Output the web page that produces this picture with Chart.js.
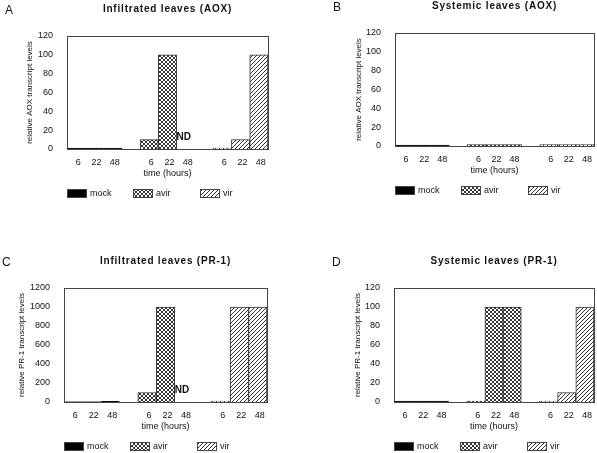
<!DOCTYPE html>
<html>
<head>
<meta charset="utf-8">
<script src="https://cdn.jsdelivr.net/npm/chart.js@4.4.0/dist/chart.umd.min.js"></script>
<style>
  html, body { margin: 0; padding: 0; background: #fff; }
  body { width: 597px; height: 453px; position: relative; overflow: hidden; }
  canvas { position: absolute; }
</style>
</head>
<body>
<canvas id="panelA" width="297" height="226" style="left:0;top:0"></canvas>
<canvas id="panelB" width="300" height="226" style="left:297px;top:0"></canvas>
<canvas id="panelC" width="297" height="227" style="left:0;top:226px"></canvas>
<canvas id="panelD" width="300" height="227" style="left:297px;top:226px"></canvas>
<script>
// x axis: three groups of time points (hours) with an empty slot between groups
const xLabels = ['6', '22', '48', '', '6', '22', '48', '', '6', '22', '48'];
const treatments = ['mock', 'avir', 'vir'];

// A - infiltrated leaves, AOX
const aoxInfMock = [1, 1, 1];
const aoxInfAvir = [10, 100, null]; // 48 h not determined
const aoxInfVir = [1, 10, 100];

// B - systemic leaves, AOX
const aoxSysMock = [1, 1, 1];
const aoxSysAvir = [1.5, 1.5, 1.5];
const aoxSysVir = [1.5, 1.5, 1.5];

// C - infiltrated leaves, PR-1
const prInfMock = [3, 3, 8];
const prInfAvir = [100, 1000, null]; // 48 h not determined
const prInfVir = [10, 1000, 1000];

// D - systemic leaves, PR-1
const prSysMock = [1, 1, 1];
const prSysAvir = [1, 100, 100];
const prSysVir = [1, 10, 100];

const FONT = '"Liberation Sans", Arial, Helvetica, sans-serif';

// put a group's three values into its slots on the 11-slot axis
function toSlots(values, group) {
  const out = xLabels.map(() => null);
  values.forEach((v, i) => { out[group * 4 + i] = v; });
  return out;
}

function makePattern(kind) {
  const c = document.createElement('canvas');
  c.width = 4; c.height = 4;
  const g = c.getContext('2d');
  g.fillStyle = '#fff';
  g.fillRect(0, 0, 4, 4);
  g.fillStyle = '#333';
  for (let i = 0; i < 4; i++) {
    g.fillRect(3 - i, i, 1, 1);
    if (kind === 'cross') g.fillRect(i, i, 1, 1);
  }
  return g.createPattern(c, 'repeat');
}

const fills = {
  mock: '#000',
  avir: makePattern('cross'),
  vir: makePattern('diag')
};

const decor = {
  id: 'decor',
  afterDraw(chart, args, opts) {
    const { ctx, chartArea: a, scales: { x } } = chart;
    ctx.save();

    // plot frame
    ctx.strokeStyle = '#444';
    ctx.lineWidth = 1;
    ctx.strokeRect(Math.round(a.left) + 0.5, Math.round(a.top) + 0.5,
      Math.round(a.right - a.left), Math.round(a.bottom - a.top));

    // panel letter
    ctx.fillStyle = '#111';
    ctx.font = '12px ' + FONT;
    ctx.textAlign = 'left';
    ctx.textBaseline = 'top';
    ctx.fillText(opts.letter, a.left - 62, a.top - 31);

    // title
    ctx.font = 'bold 10px ' + FONT;
    ctx.letterSpacing = '0.8px';
    ctx.textAlign = 'center';
    ctx.textBaseline = 'middle';
    ctx.fillText(opts.title, (a.left + a.right) / 2, a.top - 27);
    ctx.letterSpacing = '0px';

    // not determined marker
    if (opts.nd != null) {
      ctx.font = 'bold 10px ' + FONT;
      ctx.fillText('ND', x.getPixelForValue(opts.nd) - 2, a.bottom - 12);
    }

    // legend
    const ly = a.bottom + 44;
    const steps = [0, 66, 133];
    treatments.forEach((t, i) => {
      const bx = Math.round(a.left + steps[i]);
      ctx.fillStyle = fills[t];
      ctx.fillRect(bx, ly - 4, 20, 9);
      ctx.strokeStyle = '#444';
      ctx.strokeRect(bx + 0.5, ly - 3.5, 19, 8);
      ctx.fillStyle = '#111';
      ctx.font = '9px ' + FONT;
      ctx.textAlign = 'left';
      ctx.textBaseline = 'middle';
      ctx.fillText(t, bx + 23, ly + 1);
    });
    ctx.restore();
  }
};

function makeChart(id, cfg) {
  const canvas = document.getElementById(id);
  const W = canvas.width, H = canvas.height;
  const xAxisH = 30;
  const datasets = treatments.map((t, g) => ({
    label: t,
    data: toSlots(cfg.series[g], g),
    backgroundColor: fills[t],
    borderColor: '#333',
    borderWidth: 1,
    grouped: false,
    barPercentage: 1,
    categoryPercentage: 1
  }));

  return new Chart(canvas, {
    type: 'bar',
    data: { labels: xLabels, datasets },
    options: {
      responsive: false,
      animation: false,
      devicePixelRatio: 1,
      layout: {
        padding: {
          left: cfg.axisLeft,
          top: cfg.plot.top,
          right: W - cfg.plot.right,
          bottom: H - cfg.plot.bottom - xAxisH
        }
      },
      plugins: {
        legend: { display: false },
        tooltip: { enabled: false },
        decor: { letter: cfg.letter, title: cfg.title, nd: cfg.nd }
      },
      scales: {
        x: {
          offset: true,
          grid: { display: false },
          border: { display: false },
          ticks: {
            autoSkip: false, maxRotation: 0, padding: 0, labelOffset: 2,
            color: '#111', font: { family: FONT, size: 9 }
          },
          title: {
            display: true, text: 'time (hours)', padding: 0,
            color: '#111', font: { family: FONT, size: 9 }
          },
          afterFit(scale) { scale.height = xAxisH; }
        },
        y: {
          min: 0,
          max: cfg.yMax,
          grid: { display: false },
          border: { display: false },
          ticks: {
            stepSize: cfg.yMax / 6, padding: 6,
            color: '#111', font: { family: FONT, size: 9 },
            callback: (v) => String(v)
          },
          title: {
            display: true, text: cfg.yTitle, padding: 0,
            color: '#111', font: { family: FONT, size: 8 }
          },
          afterFit(scale) { scale.width = cfg.plot.left - cfg.axisLeft; }
        }
      }
    },
    plugins: [decor]
  });
}

makeChart('panelA', {
  letter: 'A', title: 'Infiltrated leaves (AOX)',
  yTitle: 'relative AOX transcript levels', yMax: 120, nd: 6,
  series: [aoxInfMock, aoxInfAvir, aoxInfVir],
  axisLeft: 25, plot: { left: 67, top: 36, right: 268, bottom: 149 }
});
makeChart('panelB', {
  letter: 'B', title: 'Systemic leaves (AOX)',
  yTitle: 'relative AOX transcript levels', yMax: 120, nd: null,
  series: [aoxSysMock, aoxSysAvir, aoxSysVir],
  axisLeft: 57, plot: { left: 98, top: 33, right: 297, bottom: 146 }
});
makeChart('panelC', {
  letter: 'C', title: 'Infiltrated leaves (PR-1)',
  yTitle: 'relative PR-1 transcript levels', yMax: 1200, nd: 6,
  series: [prInfMock, prInfAvir, prInfVir],
  axisLeft: 17, plot: { left: 64, top: 62, right: 267, bottom: 176 }
});
makeChart('panelD', {
  letter: 'D', title: 'Systemic leaves (PR-1)',
  yTitle: 'relative PR-1 transcript levels', yMax: 120, nd: null,
  series: [prSysMock, prSysAvir, prSysVir],
  axisLeft: 56, plot: { left: 97, top: 62, right: 297, bottom: 176 }
});
</script>
</body>
</html>
